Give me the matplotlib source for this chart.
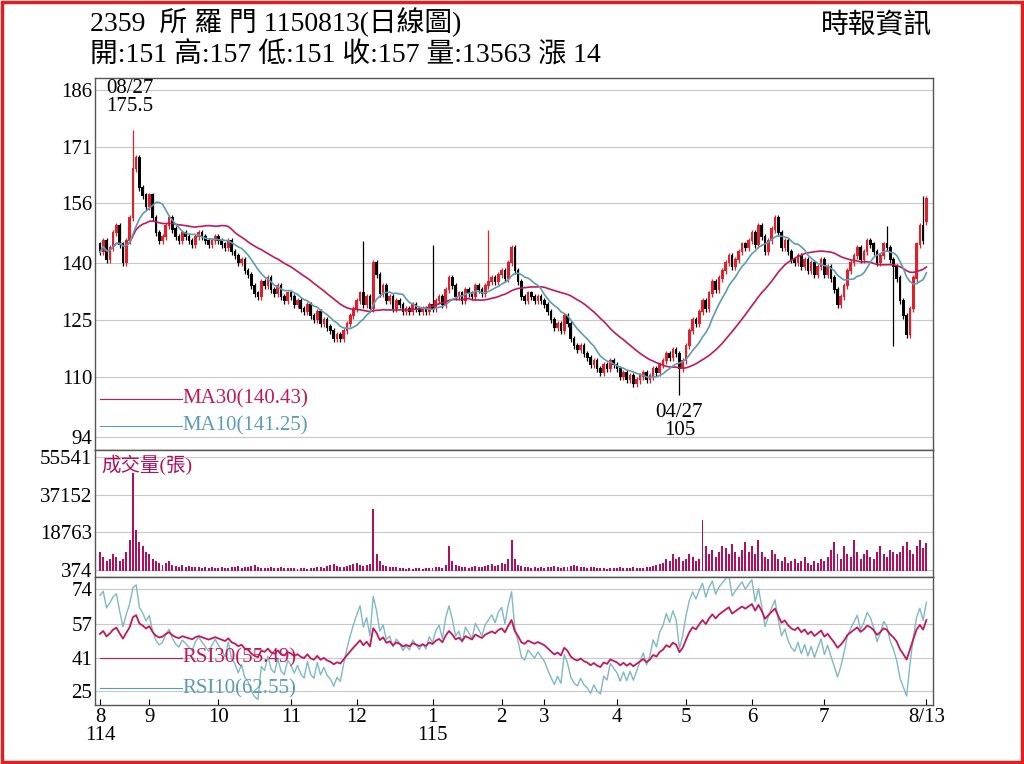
import matplotlib
matplotlib.use("Agg")
import matplotlib.pyplot as plt
import numpy as np

FAM = ['Liberation Serif', 'Noto Sans CJK TC']
plt.rcParams['font.family'] = FAM

months = ['8', '9', '10', '11', '12', '1', '2', '3', '4', '5', '6', '7', '8/13']
month_days = [15, 21, 22, 20, 23, 21, 13, 22, 21, 20, 22, 23, 9]

closes = (
    [143,146,141,144,148,150,145,140,146,152,165,168,160,158,155] +
    [158,152,148,146,147,150,152,149,147,146,148,147,146,145,147,148,147,146,145,146,147] +
    [146,145,144,146,143,142,140,141,138,137,134,132,131,135,134,136,133,132,134,131,130,132] +
    [131,129,130,128,127,129,126,125,127,124,125,123,122,120,121,120,122,124,126,128] +
    [130,132,129,131,128,140,137,132,134,130,131,128,130,129,127,128,127,129,128,127,128,127,129] +
    [128,130,131,129,133,136,134,131,132,130,133,132,131,134,133,132,134,135,136,135,137] +
    [138,136,140,144,138,135,131,130,132,131,130,131,130] +
    [129,127,125,123,124,122,126,124,120,118,117,118,116,115,113,114,112,111,113,112,114,113] +
    [112,110,111,109,110,108,109,110,111,109,110,112,111,113,114,116,115,117,116,112,114] +
    [118,122,125,124,127,130,128,132,135,133,136,138,140,142,139,141,143,145,144,146] +
    [148,145,150,147,143,146,149,152,148,144,146,143,141,140,142,139,141,138,140,137,139,141] +
    [137,139,136,133,129,131,134,138,140,142,144,141,143,146,145,143,140,142,145,144,141,139,136] +
    [130,126,121,128,136,145,150,146,157]
)
first_open = 145
extreme_highs = {10: 175.5, 80: 146, 101: 145, 118: 149, 239: 150, 250: 158}
extreme_lows = {164: 108, 176: 105, 241: 118}

volumes = (
    [9000,7000,5000,6000,8000,7000,5000,6000,9000,15000,48000,20000,14000,12000,9000] +
    [8000,6000,5000,4000,3000,4000,5000,3000,2500,2000,3000,2000,2500,2000,1800,2000,1500,1800,1500,2000,1500] +
    [1500,1800,1200,1500,2000,1800,2500,1500,2000,1800,2500,3000,2000,1500,1200,1500,1800,1200,1500,2000,1500,1200] +
    [1200,1500,1000,1200,1500,1000,1200,1500,1800,2000,1500,2500,3000,3500,2500,2000,1800,2500,3000,3500] +
    [4000,3000,2500,3000,3500,30000,8000,5000,3000,2500,2000,1800,2000,1500,1200,1000,1200,1000,1500,1200,1000,1200,1500] +
    [1500,1800,2000,1500,3000,12000,5000,3000,2500,2000,1800,1500,2000,2500,2000,1800,2500,3000,3500,2500,3000] +
    [4000,3500,6000,15000,6000,3000,2500,2000,1800,1500,2000,1500,1800] +
    [1500,1800,2000,2500,1800,1500,2000,1800,2500,3000,2500,2000,1800,1500,2000,1800,1500,1200,1500,1000,1200,1500] +
    [1500,2000,1500,1200,1500,1800,1500,1200,1500,1800,2000,2500,3000,3500,4000,6000,5000,8000,6000,7000,5000] +
    [6000,8000,7000,5000,6000,25000,12000,8000,10000,7000,9000,12000,11000,8000,13000,9000,7000,10000,14000,9000] +
    [12000,8000,15000,9000,7000,6000,10000,8000,6000,5000,7000,4000,5000,6000,4000,5000,7000,4000,3000,5000,4000,6000] +
    [5000,7000,10000,14000,8000,6000,12000,8000,7000,15000,9000,6000,8000,10000,7000,6000,9000,12000,8000,7000,10000,9000,8000] +
    [9000,12000,14000,10000,8000,12000,15000,11000,13563]
)

N = len(closes)
c = np.array(closes, float)
o = np.concatenate([[first_open], c[:-1]])
o[-1] = 151
hi = np.maximum(o, c) + 0.8
lo = np.minimum(o, c) - 0.8
for k, v in extreme_highs.items():
    if k < N: hi[k] = v
for k, v in extreme_lows.items():
    if k < N: lo[k] = v
x = np.arange(N)

def sma(a, n):
    out = np.full(len(a), np.nan)
    for i in range(len(a)):
        s = a[max(0, i - n + 1):i + 1]
        out[i] = s.mean()
    return out

def rsi(a, n):
    d = np.diff(a, prepend=a[0])
    up = np.where(d > 0, d, 0.0); dn = np.where(d < 0, -d, 0.0)
    au = up[1:n+1].mean() + 1e-9; ad = dn[1:n+1].mean() + 1e-9
    out = np.full(len(a), np.nan)
    for i in range(len(a)):
        au = (au * (n - 1) + up[i]) / n
        ad = (ad * (n - 1) + dn[i]) / n
        out[i] = 100 * au / (au + ad)
    return out

RED = '#e0202a'; MA30C = '#c2185b'; MA10C = '#5b9db5'; VOLC = '#b0105a'

fig = plt.figure(figsize=(10.24, 7.64), dpi=100)
L, W = 95/1024, 838/1024
axm = fig.add_axes([L, 1-450/764, W, 372/764])
axv = fig.add_axes([L, 1-577/764, W, 127/764], sharex=axm)
axr = fig.add_axes([L, 1-705/764, W, 128/764], sharex=axm)

up = c >= o
col = np.where(up, RED, 'black')
axm.vlines(x, lo, hi, colors=col, lw=0.9, zorder=3)
axm.bar(x, np.abs(c - o) + 0.3, bottom=np.minimum(o, c), width=0.8, color=col, zorder=3)
axm.plot(x, sma(c, 30), color=MA30C, lw=1.2, zorder=4)
axm.plot(x, sma(c, 10), color=MA10C, lw=1.2, zorder=4)
yt = [186, 171, 156, 140, 125, 110, 94]
axm.set_ylim(90.5, 189.2)
axm.set_yticks(yt); axm.set_yticklabels([str(v) for v in yt], fontsize=15)
axm.text(2, 184, '08/27\n175.5', fontsize=15, ha='left', va='center', linespacing=0.9)
axm.text(176, 98, '04/27\n105', fontsize=15, ha='center', va='center', linespacing=0.9)
axm.plot([0, 25], [104, 104], color=MA30C, lw=0.8)
axm.text(25, 104, 'MA30(140.43)', color=MA30C, fontsize=15, va='center')
axm.plot([0, 25], [97, 97], color=MA10C, lw=0.8)
axm.text(25, 97, 'MA10(141.25)', color=MA10C, fontsize=15, va='center')

axv.bar(x, volumes, width=0.6, color=VOLC)
vt = [55541, 37152, 18763, 374]
axv.set_ylim(-3000, 59000)
axv.set_yticks(vt); axv.set_yticklabels([str(v) for v in vt], fontsize=15)
axv.text(0.5, 52000, '成交量(張)', color=VOLC, fontsize=14, va='center')

axr.plot(x, rsi(c, 10), color='#7fb8c8', lw=1.0)
axr.plot(x, rsi(c, 30), color=MA30C, lw=1.3)
rt = [74, 57, 41, 25]
axr.set_ylim(18, 80)
axr.set_yticks(rt); axr.set_yticklabels([str(v) for v in rt], fontsize=15)
axr.plot([0, 25], [41, 41], color=MA30C, lw=0.8)
axr.text(25, 41, 'RSI30(55.49)', color=MA30C, fontsize=15, va='center')
axr.plot([0, 25], [26, 26], color=MA10C, lw=0.8)
axr.text(25, 26, 'RSI10(62.55)', color=MA10C, fontsize=15, va='center')

starts = np.concatenate([[0], np.cumsum(month_days)[:-1]])
starts[-1] = N - 1
labels = list(months)
labels[0] = '8\n114'; labels[5] = '1\n115'
axr.set_xticks(starts)
axr.set_xticklabels(labels, fontsize=15, linespacing=0.95)
axr.set_xlim(-1.5, N + 1)

for ax in (axm, axv, axr):
    ax.grid(axis='y', color='#c8c8c8', lw=0.8)
    ax.grid(axis='x', visible=False)
    ax.set_axisbelow(True)
    ax.tick_params(length=0, pad=2)
    for s in ax.spines.values():
        s.set_color('#555555'); s.set_linewidth(1.0)
    ax.set_facecolor('white')
axm.tick_params(labelbottom=False); axv.tick_params(labelbottom=False)
axr.tick_params(axis='x', length=4, direction='in')

fig.text(90/1024, 1-22/764, '2359  所 羅 門 1150813(日線圖)', fontsize=20, va='center')
fig.text(90/1024, 1-55/764, '開:151 高:157 低:151 收:157 量:13563 漲 14', fontsize=20, va='center')
fig.text(932/1024, 1-27/764, '時報資訊', fontsize=20, va='center', ha='right')

fig.patches.append(plt.Rectangle((0.002, 0.003), 0.996, 0.994, transform=fig.transFigure,
                                 fill=False, ec='#e02020', lw=2.5))
fig.savefig('out.png', dpi=100, facecolor='white')
